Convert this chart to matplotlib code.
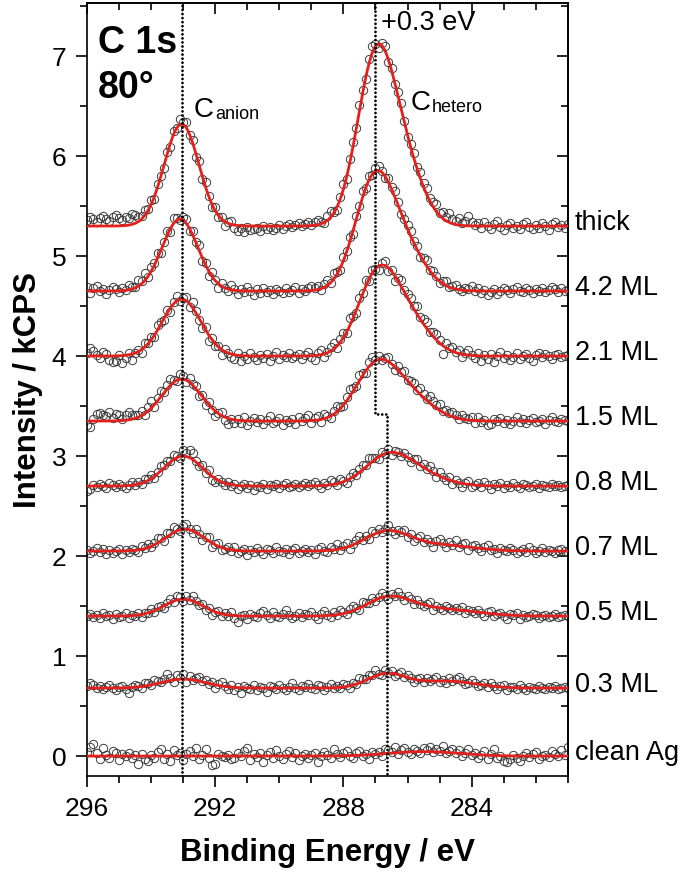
import numpy as np
import matplotlib.pyplot as plt
from matplotlib.ticker import MultipleLocator

plt.rcParams['font.family'] = ['Liberation Sans', 'DejaVu Sans']

# binding energy grid of the measured points (296 -> 281 eV, 0.1 eV step)
energy = np.linspace(296.0, 281.0, 151)

labels = ['clean Ag', '0.3 ML', '0.5 ML', '0.7 ML', '0.8 ML', '1.5 ML', '2.1 ML', '4.2 ML', 'thick']
offsets = [0.0, 0.68, 1.40, 2.05, 2.70, 3.35, 4.00, 4.65, 5.30]

# fitted components (position eV, height kCPS, gaussian width eV)
anion_pos = [293.0, 293.0, 293.0, 292.95, 293.0, 293.05, 293.05, 293.1, 293.05]
anion_height = [0.0, 0.09, 0.17, 0.22, 0.30, 0.42, 0.57, 0.72, 1.02]
anion_width = [0.6, 0.7, 0.6, 0.6, 0.6, 0.62, 0.6, 0.56, 0.54]
hetero_pos = [286.65, 286.65, 286.6, 286.65, 286.65, 287.0, 286.95, 287.05, 287.0]
hetero_height = [0.0, 0.14, 0.175, 0.19, 0.27, 0.50, 0.75, 1.05, 1.62]
hetero_width = [0.7, 0.6, 0.7, 0.7, 0.7, 0.65, 0.62, 0.6, 0.58]
tail_pos = [285.5, 284.8, 285.0, 285.0, 285.7, 286.0, 286.0, 286.1, 286.1]
tail_height = [0.045, 0.07, 0.07, 0.06, 0.12, 0.25, 0.35, 0.40, 0.55]
tail_width = [1.1, 0.9, 1.1, 1.0, 0.8, 0.75, 0.7, 0.65, 0.6]

# residuals of measured points from the fit, in 0.01 kCPS
resid_clean = [4, 9, 12, 3, -3, 8, 1, -2, 5, 3, -4, 2, 0, 3, -2, 1,
               -8, 2, -3, -5, 1, -2, 4, 7, -3,
               2, -5, 6, 1, 3, -4, 2, 5, 0, 8, -3,
               1, 7, -2, -9, -8, 2, 0, -1, 1, -3,
               -2, 3, 0, 5, 8, -4, 2, -1, 3, -6, 1, 4, -2, 6, 0, -3, 2, 5, -1, 3, -4, 0, 2, -2, 1,
               3, -6, 0, 4, 1, -2, 7, 2, -1, 3, 5, 0, -3, 2, 4, -1, 1, -4, 3, 0, 2, -2, 5, 3, 1, 6, -1, 2, 4, 0,
               -2, 3, 1, -1, 4, 2, 5, 0, 3, 1, 6, -1, 2, 4, 0, 3, -2, 1, 5, -1,
               2, -3, 0, 4, -4, 1, 6, -2, 0, -5, -6, -3, 1, -2, -5, 0, 3, -1, 2, 4, -3, 0, 1, -1, 5, 2, 0, 6, 1, 9]
resid_03 = [2, 5, 3, 0, 2, -1, 1, 3, 0, -2, 1, 2, -1, -5, 0, 2,
            1, -2, 3, 2, 0, 4, 2, 1, 3,
            7, 2, -2, 4, 1, 5, -3, 3, 0, 2, 4,
            1, 3, -1, 2, -3, 1, 4, 0, -2, 2,
            -3, 1, -5, 2, 0, -1, 3, -2, 1, 0, -4, 2, 1, -1, 3, 0, -2, 1, 5, 0, -2, 2, 1, 4, 0,
            -1, 3, 2, -2, 1, 4, 0, 2, -1, 3, 1, -2, 2, 0, 5, 3, 1, 4, 2, 6, 1, -1, 3, 0, 2, -2, 1, 3, -1, 2,
            0, -3, 1, 2, -1, 3, 0, 2, 4, -1, 1, -2, 3, 0, 2, 5, 1, -2, 0, 3,
            1, -2, 0, 2, -1, 3, 0, -2, 1, 2, -3, 0, 1, -1, 3, 0, -2, 1, 0, -1, 2, 0, -1, 1, 0, 2, -1, 0, 1, 0]
resid_05 = [0, 2, -1, 1, -2, 3, 0, 1, -3, 2, -1, 0, 3, -2, 1, -1,
            2, -3, 1, 0, 3, -1, 2, 1, -2,
            1, 3, -1, 4, 2, -2, 3, 0, 5, 1, -1,
            2, -3, 1, -4, 0, 2, -2, 1, -1, 3,
            -2, -6, 0, 1, -3, 2, 0, -1, 3, 5, 1, -2, 4, 0, -1, 2, 6, 1, -2, 0, 3, -1, 2, 1, 4,
            0, -3, 2, 5, 1, -2, 3, 0, 4, 2, -1, 3, 5, 1, -2, 4, 2, 0, 3, -1, 2, 4, 1, -3, 2, 0, 5, 1, -2, 3,
            1, -2, 3, 0, -1, 2, 4, -3, 1, 0, -2, 3, 1, -1, 2, 0, 3, -2, 1, 0,
            -1, 2, 0, -3, 1, 3, -2, 0, 2, -1, -4, 1, 0, 2, -3, 1, -1, 0, 2, 1, -2, 0, 1, -1, 0, 2, -1, 0, 1, 0]
resid_07 = [1, -2, 0, 3, -1, 2, -3, 1, -2, 0, 2, -3, 1, -1, 2, 0,
            -2, 3, 1, 4, -1, 2, 5, 3, -2,
            4, 1, 6, 2, -1, 3, 5, 1, -2, 4, 0,
            -3, 2, 4, -4, 1, 3, -2, 0, 2, -1,
            3, -2, 0, 2, -4, 1, -1, 3, 0, -3, 2, 1, -2, 4, 0, -1, 2, -3, 1, 3, -2, 0, 2, -1, 1,
            -3, 2, 4, 0, -2, 3, 1, 5, -1, 2, 4, -3, 1, 3, 6, 0, 2, -2, 4, 1, 3, -1, 2, 5, 0, -3, 2, 1, 4, -2,
            2, -3, 1, 4, -1, 3, 0, -4, 2, 5, 1, -2, 3, 0, 6, -1, 2, 4, -3, 1,
            3, 0, -2, 2, 4, -1, 1, -3, 2, 0, -1, 3, 1, -2, 0, 2, -1, 4, 1, -2, 0, 3, -1, 1, 0, -2, 1, 2, 0, -1]
resid_08 = [-5, -3, 1, -1, 2, 0, -2, 3, 1, -1, 2, 0, -2, 1, 3, 0,
            2, -1, 3, 1, 4, -2, 2, 5, 3,
            4, 1, 5, 2, -2, 6, 3, 8, 7, 1, -1,
            3, -2, 4, -4, -3, 1, 0, -2, 2, -1,
            1, -3, 0, 2, -2, 1, -4, 0, -1, 2, -3, 1, 0, 2, -2, 1, 3, -1, 0, 2, -1, 1, 3, 0, 2,
            4, 1, -2, 3, 0, 5, 2, -1, 4, 1, -3, 2, 4, 0, 3, 5, 2, 6, 4, 1, -2, 3, 0, 4, -3, 2, 1, -2, 3, 0,
            -3, 2, 4, -1, 3, 0, 5, 2, -2, 4, 1, -1, 3, -3, 2, 0, -4, 1, 3, -2,
            0, 2, -1, 4, 1, -3, 2, 0, 3, -2, 1, -1, 3, 0, -2, 2, 1, -1, 0, 2, -2, 1, 0, -1, 2, 0, 1, -1, 0, 1]
resid_15 = [-4, -6, 2, 7, 8, 6, 5, 9, 3, 7, 6, 2, 5, 8, 4, 3,
            2, 5, -1, 4, 7, -2, 3, 6, 1,
            4, 6, 2, -1, 5, 3, -2, 4, 1, 3, -3,
            2, -4, 3, -2, -5, 1, 4, -3, -6, 0,
            -3, 1, -2, 4, -4, 0, 3, -1, 2, -3, 1, 5, -2, 0, 3, -4, 1, -1, 2, -3, 4, 0, 3, 6, -2,
            2, 4, -3, 5, 1, -2, 3, 6, 2, -1, 4, 7, 3, 0, 5, 2, -2, 4, 6, 1, 3, -1, 2, 5, 0, -3, 4, 2, 6, 1,
            3, 5, 1, 6, 4, 2, 7, 5, 3, 6, 1, 4, 2, 5, 3, -1, 4, 2, 1, 3,
            -2, 4, -1, 1, -4, -3, 2, 0, 3, -2, 1, -3, 0, 4, -1, 2, -2, 1, 3, -1, 0, 2, -3, 1, 4, 0, -1, 2, 1, 0]
resid_21 = [3, 8, 5, 1, -2, 4, 2, -4, -6, -5, 1, -7, -3, 2, -6, 0,
            2, -3, 4, 1, 3, -2, 5, 2, -1,
            3, -4, 2, 5, -2, 1, 4, -3, 6, 2, -1,
            -4, 3, -6, 2, -2, 1, -5, 3, 0, -3,
            -4, 2, -5, 0, -3, 3, -1, -4, 1, -2, 2, -5, 0, 4, -3, 1, -1, 3, -2, 0, 2, -3, 1, 4, -1,
            -4, 2, 5, -3, 1, 4, 6, -2, 3, 5, -1, 7, 2, -3, 4, 1, 6, -2, 3, 0, -4, 2, 5, -3, 1, -5, 3, 6, 2, 4,
            6, 3, 8, 2, 5, 7, 1, 4, 6, 3, -8, 5, 2, 4, 1, 3, -3, 2, 5, 0,
            -2, 3, -5, 1, -3, 2, -6, 0, 4, -2, 1, -4, -1, 3, -3, 0, 2, -2, -5, 1, 3, -1, 2, 0, -3, 1, 2, -1, 0, 1]
resid_42 = [4, -2, 3, 5, 0, 2, -3, 1, 4, 2, -1, 3, 0, 5, 2, 1,
            6, 3, 8, -1, 4, 2, 5, -2, 1,
            4, -3, 6, 2, -1, 3, 5, -2, 4, 1, 6,
            -3, 2, -5, 4, 1, -4, 3, 0, -2, 5,
            1, -3, 2, -1, 4, 0, -4, 2, -2, 3, -1, 1, -3, 2, 0, -2, 3, -1, 1, 4, -2, 2, 0, 3, 5,
            2, 4, -1, 3, 5, 0, 6, 2, -2, 4, 1, 5, -3, 3, 2, 6, 0, 4, -1, 3, 5, 1, -2, 4, 2, 6, 3, -1, 2, 4,
            5, 2, 4, -1, 3, 6, 1, 4, 2, -2, 3, 5, 0, 2, 4, 1, -1, 3, 2, 5,
            0, 3, -2, 1, -4, -1, 2, -3, 0, 3, 1, -2, 2, 4, 0, -1, 3, 1, -2, 2, 0, 3, -1, 1, 4, 2, -1, 3, 0, 1]
resid_thick = [6, 9, 7, 4, 8, 10, 7, 5, 9, 11, 8, 6, 9, 7, 10, 8,
               5, 3, 6, 2, 4, -2, 3, 1, -3,
               2, -4, 3, 0, 5, 2, 6, -1, 3, -3, 4,
               -2, 5, 1, -3, 4, -1, 2, -4, 1, 3,
               -3, -5, -2, -6, -1, -4, -3, -2, -5, 0, -3, -1, -4, -2, 1, -3, 0, 2, -1, 1, 3, 0, 2, 4, 1,
               3, 5, 2, -1, 4, 6, 1, -3, 2, 5, -2, 3, 4, 1, 6, 3, -2, 4, 7, 2, -4, 3, 5, -3, 2, -1, 4, 6, 1, -2,
               3, 5, 2, 6, 4, 7, 3, 5, 8, 2, 6, 4, 9, 5, 3, 7, 2, 5, 10, 4,
               1, 3, -2, 4, 0, -3, 2, 5, -1, -4, 1, 3, -2, 0, -3, 2, 4, -1, -3, 1, -2, 3, 0, -4, 2, 4, -1, 1, -2, 2]
residuals = [resid_clean, resid_03, resid_05, resid_07, resid_08,
             resid_15, resid_21, resid_42, resid_thick]

# guide lines
anion_line = 293.05
hetero_top, hetero_bottom, hetero_step = 287.0, 286.63, 3.42


def gauss(x, pos, height, width):
    return height * np.exp(-(x - pos) ** 2 / (2 * width ** 2))


def model(x, i):
    return (offsets[i]
            + gauss(x, anion_pos[i], anion_height[i], anion_width[i])
            + gauss(x, hetero_pos[i], hetero_height[i], hetero_width[i])
            + gauss(x, tail_pos[i], tail_height[i], tail_width[i]))


def label_with_sub(x, y, main, sub):
    ax.text(x, y, main, fontsize=20, va='baseline')
    ax.annotate(sub, xy=(x, y), xytext=(15, -1.5), textcoords='offset points',
                fontsize=13, va='baseline')


fig = plt.figure(figsize=(6.8, 8.73), dpi=100)
ax = fig.add_axes([0.128, 0.111, 0.707, 0.8855])

xfine = np.linspace(296.0, 281.0, 800)
for i, lab in enumerate(labels):
    pts = model(energy, i) + np.array(residuals[i]) / 100.0
    ax.plot(energy, pts, 'o', mfc='none', mec='#3c3c3c', ms=6, mew=0.7, zorder=2)
    ax.plot(xfine, model(xfine, i), color='#e3201b', lw=2.0, zorder=3)
    ax.annotate(lab, xy=(1, offsets[i] + 0.03), xycoords=('axes fraction', 'data'),
                xytext=(5, 0), textcoords='offset points', va='center', ha='left',
                fontsize=19.5, annotation_clip=False)

ymin, ymax = -0.2, 7.53
dots = dict(color='k', lw=2.0, ls=(0, (0.01, 1.45)), dash_capstyle='round',
            solid_joinstyle='round', zorder=4)
ax.plot([anion_line, anion_line], [ymin, ymax], **dots)
ax.plot([hetero_top, hetero_top, hetero_bottom, hetero_bottom],
        [ymax, hetero_step, hetero_step, ymin], **dots)

ax.text(295.66, 7.03, 'C 1s', fontsize=27, fontweight='bold', va='baseline')
ax.text(295.66, 6.58, '80°', fontsize=27, fontweight='bold', va='baseline')
label_with_sub(292.66, 6.39, 'C', 'anion')
label_with_sub(285.91, 6.46, 'C', 'hetero')
ax.text(286.82, 7.26, '+0.3 eV', fontsize=19.5, va='baseline')

ax.set_xlim(296, 281)
ax.set_ylim(ymin, ymax)
ax.set_xticks([296, 292, 288, 284])
ax.xaxis.set_minor_locator(MultipleLocator(1))
ax.set_yticks(range(0, 8))
ax.yaxis.set_minor_locator(MultipleLocator(0.5))
ax.tick_params(which='both', direction='out', top=False, right=False,
               labelsize=19, width=1.2, pad=7)
ax.tick_params(which='major', length=8)
ax.tick_params(which='minor', length=5)
for s in ax.spines.values():
    s.set_linewidth(1.2)

top = ax.secondary_xaxis('top')
top.set_xticks([296, 292, 288, 284])
top.xaxis.set_minor_locator(MultipleLocator(1))
top.tick_params(which='both', direction='in', labeltop=False, width=1.2)
top.tick_params(which='major', length=8)
top.tick_params(which='minor', length=5)
right = ax.secondary_yaxis('right')
right.set_yticks(range(0, 8))
right.yaxis.set_minor_locator(MultipleLocator(0.5))
right.tick_params(which='both', direction='in', labelright=False, width=1.2)
right.tick_params(which='major', length=8)
right.tick_params(which='minor', length=5)
for sec in (top, right):
    for s in sec.spines.values():
        s.set_linewidth(1.2)

ax.set_xlabel('Binding Energy / eV', fontsize=22.5, fontweight='bold', va='center')
ax.set_ylabel('Intensity / kCPS', fontsize=22.5, fontweight='bold', va='center')
ax.xaxis.set_label_coords(0.5, -0.1)
ax.yaxis.set_label_coords(-0.123, 0.5)

fig.savefig('out.png', dpi=100)
